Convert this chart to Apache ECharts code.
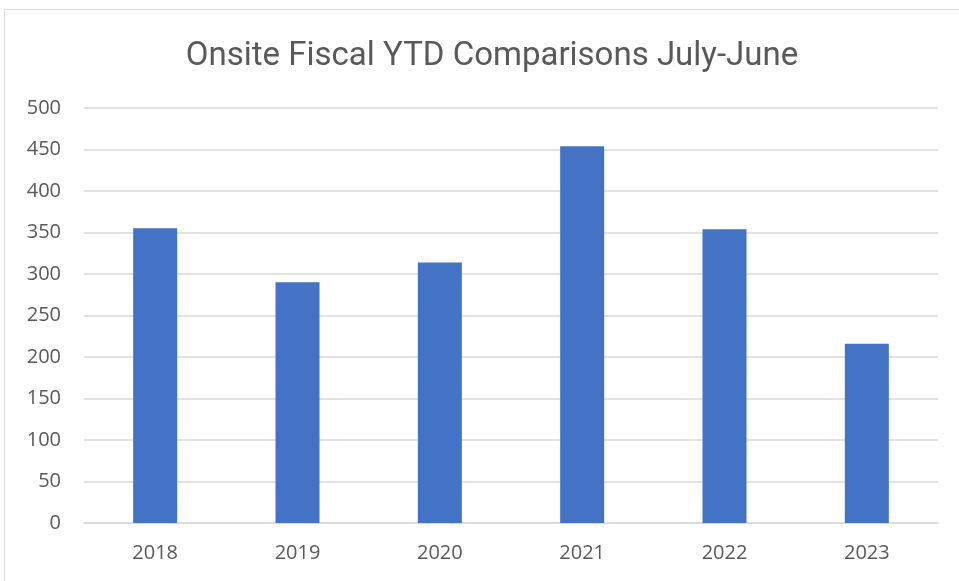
<!DOCTYPE html>
<html>
<head>
<meta charset="utf-8">
<script src="https://cdn.jsdelivr.net/npm/echarts@6/dist/echarts.min.js"></script>
<style>
  html, body { margin: 0; padding: 0; background: #fff; }
  #chart { width: 959px; height: 581px; }
</style>
</head>
<body>
<div id="chart"></div>
<script>
var years = ['2018', '2019', '2020', '2021', '2022', '2023'];
var onsite = [355, 290, 314, 454, 354, 216];
var yTicks = [0, 50, 100, 150, 200, 250, 300, 350, 400, 450, 500];

var myChart = echarts.init(document.getElementById('chart'));
var textColor = '#595959';

var option = {
    backgroundColor: '#fff',
    animation: false,
    graphic: [{
        type: 'rect',
        shape: { x: 4.5, y: 9.5, width: 1000, height: 700 },
        style: { fill: 'none', stroke: '#d9d9d9', lineWidth: 1 },
        silent: true
    }],
    title: {
        text: 'Onsite Fiscal YTD Comparisons July-June',
        left: 487,
        top: 35,
        textAlign: 'center',
        textStyle: {
            fontFamily: 'Roboto',
            fontWeight: 'normal',
            fontSize: 33,
            color: textColor
        }
    },
    grid: { left: 84, right: 21, top: 108, bottom: 58, containLabel: false },
    xAxis: {
        type: 'category',
        data: years,
        axisLine: { lineStyle: { color: '#d9d9d9', width: 1.5 } },
        axisTick: { show: false },
        axisLabel: { color: textColor, fontSize: 20, fontFamily: 'Open Sans', margin: 20 }
    },
    yAxis: {
        type: 'value',
        min: yTicks[0],
        max: yTicks[yTicks.length - 1],
        interval: 50,
        axisLine: { show: false },
        axisTick: { show: false },
        splitLine: { lineStyle: { color: '#d9d9d9', width: 1.5 } },
        axisLabel: { color: textColor, fontSize: 20, fontFamily: 'Open Sans', margin: 23 }
    },
    series: [{
        type: 'bar',
        data: onsite,
        barWidth: 44,
        itemStyle: { color: '#4472c4' }
    }]
};

myChart.setOption(option);
window.onresize = function() {
    myChart.resize();
};
</script>
</body>
</html>
